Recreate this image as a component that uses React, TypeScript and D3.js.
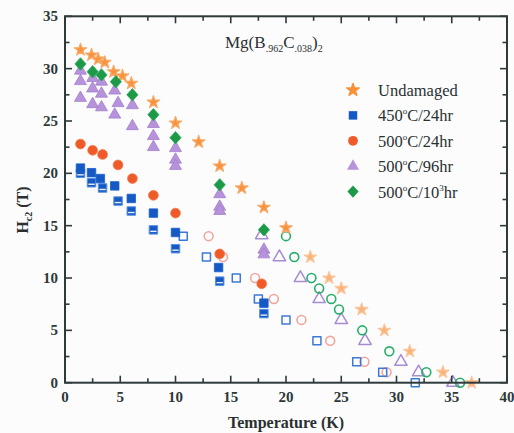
import React from "react";
import * as d3 from "d3";

// ---- data ----
const undamagedT = [1.4, 2.4, 3.0, 3.6, 4.4, 5.2, 6.0, 8.0, 10.0, 12.1, 14.0, 16.0, 18.0, 20.0];
const undamagedH = [31.8, 31.3, 30.9, 30.6, 29.7, 29.3, 28.6, 26.8, 24.8, 23.0, 20.7, 18.6, 16.75, 14.8];
const undamagedOpenT = [22.2, 23.9, 25.0, 26.85, 28.9, 31.2, 34.2, 36.8];
const undamagedOpenH = [12.0, 10.0, 9.0, 7.0, 5.0, 3.0, 1.0, 0];

const b450T = [1.4, 2.4, 3.2, 4.5, 6.0, 8.0, 10.0, 13.9, 18.0];
const b450H = [20.5, 20.06, 19.5, 18.8, 17.6, 16.2, 14.35, 11.0, 7.6];
const b450bT = [1.4, 2.4, 3.4, 4.8, 6.0, 8.0, 10.0, 14.0, 18.0];
const b450bH = [20.0, 19.1, 18.6, 17.35, 16.4, 14.6, 12.8, 9.7, 6.6];
const b450OpenT = [10.7, 12.8, 15.5, 17.5, 20.0, 22.8, 26.4, 28.75, 31.7];
const b450OpenH = [14, 12, 10, 8, 6, 4, 2, 1, 0];

const r500T = [1.4, 2.5, 3.4, 4.8, 6.1, 8.0, 10.0, 14.0, 17.8];
const r500H = [22.8, 22.2, 21.8, 20.8, 19.5, 17.9, 16.2, 12.3, 9.45];
const r500OpenT = [13.0, 14.3, 17.2, 18.9, 21.4, 24.0, 27.1, 29.1];
const r500OpenH = [14, 12, 10, 8, 6, 4, 2, 1];

const p96T = [1.4, 1.4, 1.4, 2.5, 2.5, 2.5, 3.3, 3.3, 3.3, 4.5, 4.8, 4.5, 6.1, 6.1, 8.0, 8.0, 8.0, 10.0, 10.0, 10.0, 14.0, 14.0, 14.0, 18.0, 18.0];
const p96H = [29.9, 28.9, 27.3, 29.2, 28.2, 26.7, 28.85, 27.7, 26.4, 28.0, 26.8, 25.7, 26.6, 24.6, 24.8, 23.65, 22.6, 22.5, 21.4, 20.8, 18.1, 16.9, 16.5, 12.8, 12.35];
const p96OpenT = [17.8, 19.4, 21.3, 23.0, 25.0, 27.15, 30.4, 32.0, 35.1];
const p96OpenH = [14.1, 12, 10, 8, 6, 4, 2, 1, 0];

const g1000T = [1.4, 2.5, 3.3, 4.6, 6.1, 8.0, 10.0, 14.0, 18.0];
const g1000H = [30.45, 29.7, 29.4, 28.75, 27.5, 25.6, 23.4, 18.9, 14.6];
const g1000OpenT = [20.0, 20.75, 22.3, 23.0, 24.1, 24.8, 26.9, 29.35, 32.7, 35.75];
const g1000OpenH = [14, 12, 10, 9, 8, 7, 5, 3, 1, 0];

const xTicks = [0, 5, 10, 15, 20, 25, 30, 35, 40];
const yTicks = [0, 5, 10, 15, 20, 25, 30, 35];

const W = 514, H = 433;
const x = d3.scaleLinear().domain([0, 40]).range([65, 507]);
const y = d3.scaleLinear().domain([0, 35]).range([382.7, 16.3]);

const FONT = "'Liberation Serif', 'Times New Roman', serif";
const frame = "#2f3a3a";

const starPath = d3.symbol().type(d3.symbolStar).size(48)()!;
const squarePath = d3.symbol().type(d3.symbolSquare).size(72)()!;
const circlePath = d3.symbol().type(d3.symbolCircle).size(75)()!;
const triPath = d3.symbol().type(d3.symbolTriangle).size(62)()!;
const diamondPath = "M0,-6.2L5.6,0L0,6.2L-5.6,0Z";
const openCircle = d3.symbol().type(d3.symbolCircle).size(62)()!;
const openSquare = d3.symbol().type(d3.symbolSquare).size(64)()!;
const openTri = d3.symbol().type(d3.symbolTriangle).size(66)()!;

const zip = (a: number[], b: number[]) => a.map((v, i) => [v, b[i]] as [number, number]);

function Marks({ pts, d, fill, stroke, sw = 1, ty = 0 }: { pts: [number, number][]; d: string; fill: string; stroke: string; sw?: number; ty?: number }) {
  return (
    <g>
      {pts.map(([t, h], i) => (
        <path key={i} d={d} transform={`translate(${x(t)},${y(h) + ty})`} fill={fill} stroke={stroke} strokeWidth={sw} strokeLinejoin="round" />
      ))}
    </g>
  );
}

export default function App() {
  const minor = d3.range(0, 40.01, 2.5);
  const minorY = d3.range(0, 35.01, 2.5);
  const legend = [
    { label: ["Undamaged"], d: starPath, fill: "#f7923a" },
    { label: ["450", "o", "C/24hr"], d: squarePath, fill: "#1459c4" },
    { label: ["500", "o", "C/24hr"], d: circlePath, fill: "#f05a28" },
    { label: ["500", "o", "C/96hr"], d: triPath, fill: "#b793dc" },
    { label: ["500", "o", "C/10", "3", "hr"], d: diamondPath, fill: "#1c9a48" },
  ];
  return (
    <svg width={W} height={H} style={{ position: "absolute", left: 0, top: 0, background: "#fcfcfd" }} fontFamily={FONT}>
      {/* open (high-T) points */}
      <Marks pts={zip(undamagedOpenT, undamagedOpenH)} d={starPath} fill="#f9b27a" stroke="#fbc69b" sw={1.2} />
      <Marks pts={zip(r500OpenT, r500OpenH)} d={openCircle} fill="none" stroke="#f2a69c" sw={1.6} />
      <Marks pts={zip(b450OpenT, b450OpenH)} d={openSquare} fill="none" stroke="#3d78d6" sw={1.5} />
      <Marks pts={zip(p96OpenT, p96OpenH)} d={openTri} fill="none" stroke="#a88cd2" sw={1.5} />
      <Marks pts={zip(g1000OpenT, g1000OpenH)} d={openCircle} fill="none" stroke="#26ae68" sw={1.6} />

      {/* filled (low-T) points */}
      <Marks pts={zip(undamagedT, undamagedH)} d={starPath} fill="#f7923a" stroke="#f9a865" sw={1.2} />
      <Marks pts={zip(r500T, r500H)} d={circlePath} fill="#f05a28" stroke="#f27a50" sw={0.8} />
      <Marks pts={zip(p96T, p96H)} d={triPath} fill="#b793dc" stroke="#a27ecb" sw={0.8} ty={1} />
      <Marks pts={zip(b450bT, b450bH)} d={squarePath} fill="#1459c4" stroke="#5a90e2" sw={1} />
      <g>
        {zip(b450bT, b450bH).map(([t, h], i) => (
          <line key={i} x1={x(t) - 3.2} x2={x(t) + 3.2} y1={y(h) + 1.5} y2={y(h) + 1.5} stroke="#e8eefa" strokeWidth={1.4} />
        ))}
      </g>
      <Marks pts={zip(b450T, b450H)} d={squarePath} fill="#1459c4" stroke="#1a5fcc" sw={0.8} />
      <Marks pts={zip(g1000T, g1000H)} d={diamondPath} fill="#1c9a48" stroke="#2aa656" sw={0.8} />

      {/* frame */}
      <rect x={x(0)} y={y(35)} width={x(40) - x(0)} height={y(0) - y(35)} fill="none" stroke={frame} strokeWidth={2} />
      {minor.map((t) => {
        const major = t % 5 === 0;
        const L = major ? 7 : 4.5;
        return (
          <g key={"x" + t} stroke={frame} strokeWidth={1.6}>
            <line x1={x(t)} x2={x(t)} y1={y(0)} y2={y(0) - L} />
            <line x1={x(t)} x2={x(t)} y1={y(35)} y2={y(35) + L} />
          </g>
        );
      })}
      {minorY.map((v) => {
        const major = v % 5 === 0;
        const L = major ? 7 : 4.5;
        return (
          <g key={"y" + v} stroke={frame} strokeWidth={1.6}>
            <line x1={x(0)} x2={x(0) + L} y1={y(v)} y2={y(v)} />
            <line x1={x(40)} x2={x(40) - L} y1={y(v)} y2={y(v)} />
          </g>
        );
      })}
      {xTicks.map((t) => (
        <text key={"xl" + t} x={x(t)} y={402} textAnchor="middle" fontSize={15} fontWeight="bold" fill="#2e3838">{t}</text>
      ))}
      {yTicks.map((v) => (
        <text key={"yl" + v} x={58} y={y(v) + 5} textAnchor="end" fontSize={15} fontWeight="bold" fill="#2e3838">{v}</text>
      ))}

      {/* axis titles */}
      <text x={286} y={428} textAnchor="middle" fontSize={16} fontWeight="bold" fill="#2a3030">Temperature (K)</text>
      <text transform={`translate(28,${210}) rotate(-90)`} textAnchor="middle" fontSize={16} fontWeight="bold" fill="#2a3030">
        H<tspan fontSize={10} dy={4}>c2</tspan><tspan dy={-4}> (T)</tspan>
      </text>

      {/* compound label */}
      <text x={225} y={48} fontSize={17} fill="#2a3030">
        Mg(B<tspan fontSize={10} dy={4}>.962</tspan><tspan dy={-4}>C</tspan><tspan fontSize={10} dy={4}>.038</tspan><tspan dy={-4}>)</tspan><tspan fontSize={10} dy={4}>2</tspan>
      </text>

      {/* legend */}
      {legend.map((l, i) => {
        const cy = 90 + i * 25.4;
        return (
          <g key={i}>
            <path d={l.d} transform={`translate(353,${cy})`} fill={l.fill} stroke={l.fill} strokeWidth={l.d === starPath ? 1.5 : 0} strokeLinejoin="round" />
            <text x={378} y={cy + 6} fontSize={16.5} fill="#2a3030">
              {l.label.length === 1 ? (
                l.label[0]
              ) : l.label.length === 3 ? (
                <>
                  {l.label[0]}<tspan fontSize={9} dy={-7}>{l.label[1]}</tspan><tspan dy={7}>{l.label[2]}</tspan>
                </>
              ) : (
                <>
                  {l.label[0]}<tspan fontSize={9} dy={-7}>{l.label[1]}</tspan><tspan dy={7}>{l.label[2]}</tspan><tspan fontSize={9} dy={-7}>{l.label[3]}</tspan><tspan dy={7}>{l.label[4]}</tspan>
                </>
              )}
            </text>
          </g>
        );
      })}
    </svg>
  );
}
